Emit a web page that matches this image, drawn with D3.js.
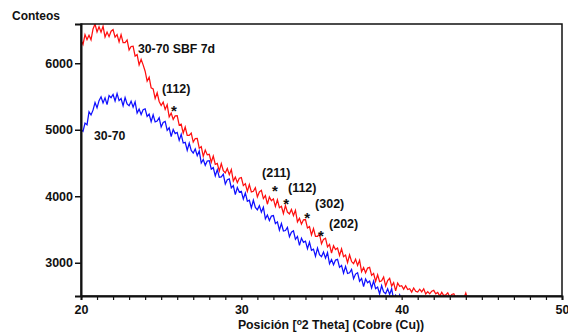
<!DOCTYPE html>
<html>
<head>
<meta charset="utf-8">
<script src="https://cdn.jsdelivr.net/npm/d3@7"></script>
<style>
  html, body { margin: 0; padding: 0; background: #fff; }
  svg { display: block; }
  text { font-family: "Liberation Sans", Arial, sans-serif; font-weight: bold; fill: #111; }
</style>
</head>
<body>
<svg id="chart" width="568" height="333"></svg>
<script>
// 2θ grid, 0.125° step, both series start at 20°
const thetaStart = 20;
const thetaStep = 0.125;

// 30-70 SBF 7d (red), one row per degree
const sbfCounts = [
  6345, 6282, 6430, 6355, 6420, 6352, 6515, 6590,
  6470, 6549, 6468, 6556, 6395, 6468, 6400, 6482,
  6505, 6392, 6430, 6320, 6430, 6310, 6310, 6350,
  6200, 6252, 6255, 6108, 6130, 5975, 6060, 5975,
  5880, 5730, 5790, 5630, 5615, 5470, 5555, 5425,
  5365, 5415, 5305, 5375, 5195, 5250, 5155, 5208,
  5210, 5070, 5085, 4950, 5040, 4915, 4915, 4950,
  4815, 4868, 4870, 4722, 4745, 4600, 4695, 4622,
  4630, 4512, 4605, 4480, 4495, 4378, 4490, 4385,
  4350, 4418, 4325, 4402, 4230, 4288, 4205, 4272,
  4280, 4160, 4190, 4072, 4175, 4065, 4075, 4128,
  3990, 4065, 4090, 3965, 4010, 3880, 3990, 3932,
  3960, 3845, 3945, 3828, 3850, 3740, 3860, 3762,
  3735, 3802, 3710, 3788, 3615, 3668, 3580, 3645,
  3650, 3522, 3545, 3420, 3515, 3395, 3395, 3435,
  3285, 3352, 3370, 3238, 3275, 3145, 3255, 3198,
  3220, 3110, 3210, 3092, 3115, 3002, 3120, 3018,
  2985, 3052, 2960, 3038, 2865, 2928, 2850, 2920,
  2930, 2810, 2840, 2720, 2820, 2715, 2730, 2785,
  2650, 2732, 2765, 2648, 2700, 2578, 2695, 2645,
  2655, 2603, 2655, 2597, 2610, 2558, 2620, 2572,
  2560, 2602, 2563, 2609, 2530, 2566, 2532, 2573,
  2585, 2532, 2553, 2499, 2555, 2506, 2517, 2548,
  2485, 2523, 2535, 2472, 2495, 2433, 2490, 2462,
  2545, 2440, 2420
];

// 30-70 (blue), one row per degree
const baseCounts = [
  5000, 4975, 5100, 5075, 5270, 5222, 5295, 5408,
  5330, 5438, 5495, 5402, 5480, 5378, 5515, 5482,
  5530, 5432, 5545, 5438, 5470, 5362, 5485, 5388,
  5360, 5430, 5340, 5420, 5250, 5310, 5230, 5302,
  5315, 5200, 5235, 5120, 5225, 5118, 5130, 5180,
  5040, 5108, 5125, 4992, 5030, 4898, 5005, 4942,
  4960, 4840, 4930, 4800, 4810, 4690, 4800, 4690,
  4650, 4710, 4610, 4680, 4500, 4552, 4465, 4530,
  4535, 4408, 4430, 4305, 4400, 4285, 4290, 4332,
  4185, 4248, 4260, 4125, 4160, 4025, 4130, 4062,
  4075, 3958, 4050, 3925, 3940, 3825, 3940, 3832,
  3795, 3858, 3760, 3835, 3660, 3718, 3635, 3702,
  3710, 3588, 3615, 3492, 3590, 3478, 3485, 3532,
  3390, 3460, 3480, 3352, 3395, 3262, 3370, 3308,
  3325, 3212, 3310, 3188, 3205, 3098, 3220, 3120,
  3090, 3160, 3070, 3152, 2985, 3048, 2970, 3040,
  3050, 2930, 2960, 2842, 2945, 2838, 2850, 2900,
  2760, 2830, 2850, 2722, 2765, 2640, 2755, 2700,
  2725, 2620, 2725, 2610, 2635, 2530, 2655, 2560,
  2535, 2610, 2525, 2610, 2445, 2512, 2440, 2518,
  2420, 2470, 2400
];

const xTicks = [20, 30, 40, 50];
const yTicks = [3000, 4000, 5000, 6000];

// annotations: [2θ, counts, text]
const seriesLabels = [
  [23.55, 6154, "30-70 SBF 7d"],
  [20.81, 4846, "30-70"]
];
const peakLabels = [
  [25.05, 5553, "(112)"],
  [31.29, 4289, "(211)"],
  [32.91, 4064, "(112)"],
  [34.60, 3823, "(302)"],
  [35.47, 3522, "(202)"]
];
const peakStars = [
  [25.80, 5342],
  [32.10, 4139],
  [32.79, 3944],
  [34.10, 3733],
  [34.97, 3462]
];

const svg = d3.select("#chart");
const m = { left: 81, right: 562, top: 24, bottom: 296 };

const x = d3.scaleLinear().domain([20, 50]).range([m.left, m.right]);
const y = d3.scaleLinear().domain([2500, 6590]).range([m.bottom, m.top]);

const toPoints = arr => arr.map((v, i) => [thetaStart + i * thetaStep, v]);

svg.append("defs").append("clipPath").attr("id", "plotClip")
  .append("rect")
  .attr("x", m.left).attr("y", m.top)
  .attr("width", m.right - m.left).attr("height", m.bottom - m.top);

const line = d3.line()
  .x(d => x(d[0]))
  .y(d => y(d[1]));

const plot = svg.append("g").attr("clip-path", "url(#plotClip)");

plot.append("path")
  .datum(toPoints(sbfCounts))
  .attr("d", line)
  .attr("fill", "none")
  .attr("stroke", "#ff0f0f")
  .attr("stroke-width", 1.25);

plot.append("path")
  .datum(toPoints(baseCounts))
  .attr("d", line)
  .attr("fill", "none")
  .attr("stroke", "#0f0fff")
  .attr("stroke-width", 1.25);

// frame
svg.append("rect")
  .attr("x", m.left).attr("y", m.top)
  .attr("width", m.right - m.left).attr("height", m.bottom - m.top)
  .attr("fill", "none")
  .attr("stroke", "#111")
  .attr("stroke-width", 1.5);

// x axis, minor tick every degree
const xAxis = d3.axisBottom(x)
  .tickValues(d3.range(20, 51, 1))
  .tickSize(4)
  .tickFormat(d => xTicks.includes(d) ? d : "");

const gx = svg.append("g")
  .attr("transform", `translate(0,${m.bottom})`)
  .call(xAxis);
gx.select(".domain").attr("stroke-width", 2).attr("stroke", "#111");
gx.selectAll(".tick line").attr("stroke", "#111").attr("stroke-width", 1.2);
gx.selectAll(".tick text")
  .attr("dy", "0.9em")
  .style("font-size", "12.5px")
  .style("font-family", "'Liberation Sans', Arial, sans-serif")
  .style("font-weight", "bold");

// y axis
const yAxis = d3.axisLeft(y)
  .tickValues(yTicks)
  .tickFormat(d3.format("d"))
  .tickSize(6)
  .tickPadding(2);

const gy = svg.append("g")
  .attr("transform", `translate(${m.left},0)`)
  .call(yAxis);
gy.select(".domain").attr("stroke-width", 2).attr("stroke", "#111");
gy.selectAll(".tick line").attr("stroke", "#111").attr("stroke-width", 1.5);
gy.selectAll(".tick text")
  .style("font-size", "12.5px")
  .style("font-family", "'Liberation Sans', Arial, sans-serif")
  .style("font-weight", "bold");

// axis titles
svg.append("text")
  .attr("x", 12).attr("y", 20)
  .style("font-size", "12px")
  .text("Conteos");

const xt = svg.append("text")
  .attr("x", 331).attr("y", 329)
  .attr("text-anchor", "middle")
  .style("font-size", "12.3px");
xt.append("tspan").text("Posición [");
xt.append("tspan").attr("dy", -4).style("font-size", "8.5px").text("o");
xt.append("tspan").attr("dy", 4).text("2 Theta] (Cobre (Cu))");

// series and peak labels
svg.selectAll("text.series")
  .data(seriesLabels)
  .join("text")
  .attr("class", "series")
  .attr("x", d => x(d[0]))
  .attr("y", d => y(d[1]))
  .style("font-size", "12.3px")
  .text(d => d[2]);

svg.selectAll("text.peak")
  .data(peakLabels)
  .join("text")
  .attr("class", "peak")
  .attr("x", d => x(d[0]))
  .attr("y", d => y(d[1]))
  .style("font-size", "12.5px")
  .text(d => d[2]);

svg.selectAll("text.star")
  .data(peakStars)
  .join("text")
  .attr("class", "star")
  .attr("x", d => x(d[0]))
  .attr("y", d => y(d[1]) + 9)
  .attr("text-anchor", "middle")
  .style("font-size", "15px")
  .text("*");
</script>
</body>
</html>
